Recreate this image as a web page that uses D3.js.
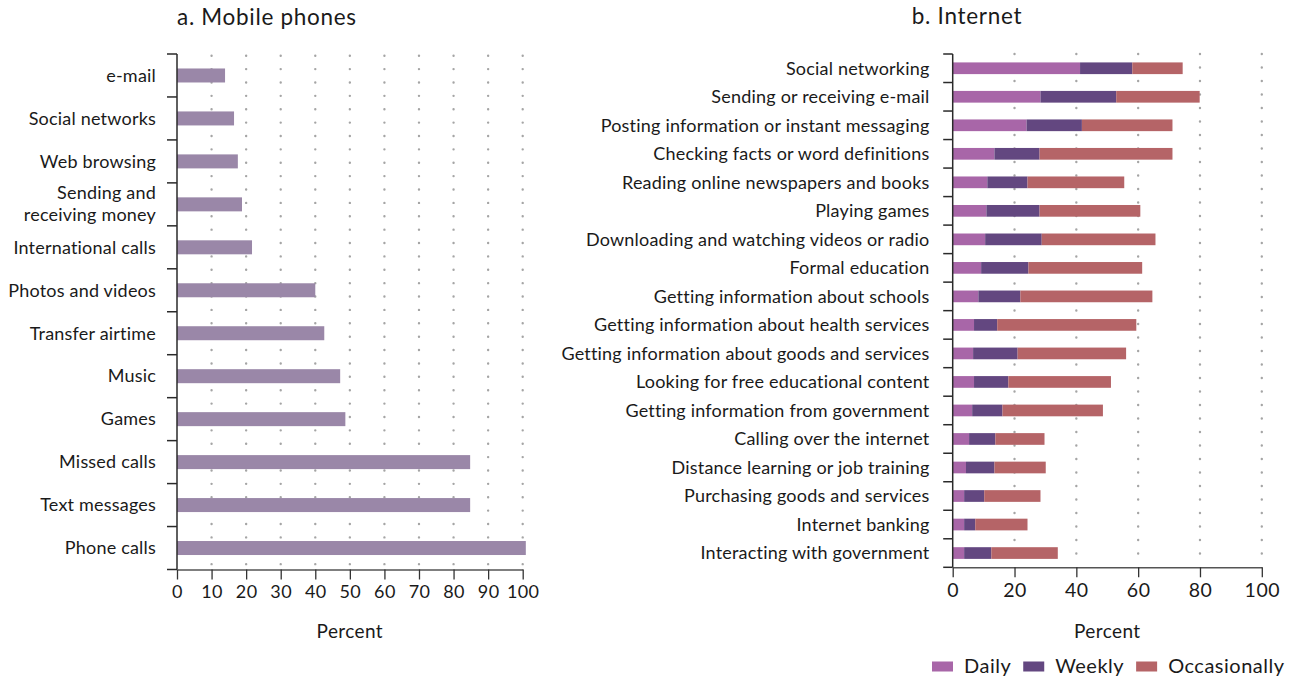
<!DOCTYPE html>
<html>
<head>
<meta charset="utf-8">
<script src="https://cdn.jsdelivr.net/npm/d3@7"></script>
<style>
  html, body { margin: 0; padding: 0; background: #fff; }
  svg { display: block; font-family: Lato, "Open Sans", sans-serif; }
</style>
</head>
<body>
<svg id="chart" width="1299" height="676"></svg>
<script>
// ---------- data ----------
const mobileCategories = ["e-mail", "Social networks", "Web browsing", "Sending and\nreceiving money",
  "International calls", "Photos and videos", "Transfer airtime", "Music", "Games",
  "Missed calls", "Text messages", "Phone calls"];
const mobileValues = [13.9, 16.5, 17.6, 18.8, 21.7, 40.0, 42.6, 47.2, 48.7, 84.8, 84.8, 100.9];
const mobileTicks = [0, 10, 20, 30, 40, 50, 60, 70, 80, 90, 100];

const internetCategories = ["Social networking", "Sending or receiving e-mail",
  "Posting information or instant messaging", "Checking facts or word definitions",
  "Reading online newspapers and books", "Playing games",
  "Downloading and watching videos or radio", "Formal education",
  "Getting information about schools", "Getting information about health services",
  "Getting information about goods and services", "Looking for free educational content",
  "Getting information from government", "Calling over the internet",
  "Distance learning or job training", "Purchasing goods and services",
  "Internet banking", "Interacting with government"];
const daily =        [41.2, 28.4, 23.9, 13.5, 11.2, 10.9, 10.5, 9.2, 8.3, 6.9, 6.6, 6.9, 6.3, 5.3, 4.3, 3.7, 3.7, 3.7];
const weekly =       [16.9, 24.5, 17.9, 14.6, 13.0, 17.2, 18.3, 15.3, 13.6, 7.5, 14.4, 11.1, 9.8, 8.5, 9.2, 6.5, 3.6, 8.8];
const occasionally = [16.3, 27.0, 29.3, 43.0, 31.3, 32.6, 36.8, 36.8, 42.7, 45.0, 35.1, 33.2, 32.5, 15.9, 16.6, 18.2, 16.9, 21.5];
const seriesNames = ["Daily", "Weekly", "Occasionally"];
const internetTicks = [0, 20, 40, 60, 80, 100];

const titles = ["a. Mobile phones", "b. Internet"];
const axisTitle = "Percent";

// ---------- styles ----------
const mobileColor = "#9a87a8";
const seriesColors = ["#a866a8", "#634780", "#b56467"];
const textColor = "#1a1a1a";
const gridColor = "#a5a5a5";

const svg = d3.select("#chart");

function dottedGrid(g, x, ticks, y0, y1, step) {
  g.selectAll("line.grid").data(ticks.filter(t => t > 0)).join("line")
    .attr("class", "grid")
    .attr("x1", d => x(d)).attr("x2", d => x(d))
    .attr("y1", y0).attr("y2", y1)
    .attr("stroke", gridColor).attr("stroke-width", 2.4)
    .attr("stroke-linecap", "round")
    .attr("stroke-dasharray", `0 ${step}`);
}

function bandAxis(g, y, xAxisPos, tickLen, labelX, fontSize, twoLineGap) {
  const cats = y.domain();
  const bounds = cats.map(c => y(c)).concat([y.range()[1]]);
  g.append("line")
    .attr("x1", xAxisPos).attr("x2", xAxisPos)
    .attr("y1", y.range()[0]).attr("y2", y.range()[1])
    .attr("stroke", "#2a2a2a").attr("stroke-width", 1.5);
  g.selectAll("line.ytick").data(bounds).join("line")
    .attr("class", "ytick")
    .attr("x1", xAxisPos - tickLen).attr("x2", xAxisPos)
    .attr("y1", d => d).attr("y2", d => d)
    .attr("stroke", "#2a2a2a").attr("stroke-width", 1.5);
  const lab = g.selectAll("text.ylab").data(cats).join("text")
    .attr("class", "ylab")
    .attr("x", labelX)
    .attr("text-anchor", "end")
    .attr("fill", textColor)
    .style("font-size", fontSize + "px")
    .style("letter-spacing", "0.2px");
  lab.each(function(d) {
    const lines = d.split("\n");
    const cy = y(d) + y.bandwidth() / 2;
    const t = d3.select(this);
    if (lines.length === 1) {
      t.attr("y", cy).attr("dy", "0.35em").text(d);
    } else {
      lines.forEach((ln, i) => {
        t.append("tspan").attr("x", labelX)
          .attr("y", cy - 12 + i * twoLineGap).attr("dy", "0.35em").text(ln);
      });
    }
  });
}

// ---------- panel a: Mobile phones ----------
{
  const top = 54, bottom = 569.5;
  const x = d3.scaleLinear().domain([0, 100]).range([177, 522.7]);
  const y = d3.scaleBand().domain(mobileCategories).range([top, bottom]);
  const g = svg.append("g");

  const grid = g.append("g").attr("transform", "translate(0,1.7)");
  dottedGrid(grid, x, mobileTicks, top, bottom - 1.7, 13.38);

  const barH = 14;
  g.selectAll("rect.bar").data(mobileCategories).join("rect")
    .attr("class", "bar")
    .attr("x", x(0))
    .attr("y", (d) => y(d) + y.bandwidth() / 2 - barH / 2)
    .attr("width", (d, i) => x(mobileValues[i]) - x(0))
    .attr("height", barH)
    .attr("fill", mobileColor);

  bandAxis(g, y, 177, 10, 156, 18, 22);

  const xa = g.append("g").attr("transform", `translate(0,${bottom})`)
    .call(d3.axisBottom(x).tickValues(mobileTicks).tickSize(10).tickSizeOuter(0).tickPadding(6));
  xa.select(".domain").attr("stroke", "#555").attr("stroke-width", 1.5);
  xa.selectAll(".tick line").attr("stroke", "#333").attr("stroke-width", 1.3);
  xa.selectAll(".tick text").attr("fill", textColor).style("font-size", "18px")
    .style("letter-spacing", "0.4px").style("font-family", "Lato, sans-serif");

  g.append("text").attr("x", (x(0) + x(100)) / 2).attr("y", 638)
    .attr("text-anchor", "middle").attr("fill", textColor).style("font-size", "19px")
    .style("letter-spacing", "0.4px").text(axisTitle);

  g.append("text").attr("x", 177).attr("y", 25)
    .attr("fill", textColor).style("font-size", "22.5px").style("letter-spacing", "0.7px").text(titles[0]);
}

// ---------- panel b: Internet ----------
{
  const top = 54, bottom = 567.3;
  const x = d3.scaleLinear().domain([0, 100]).range([952.7, 1261.8]);
  const y = d3.scaleBand().domain(internetCategories).range([top, bottom]);
  const g = svg.append("g");

  dottedGrid(g, x, internetTicks, top, bottom - 4, 13.5);

  const rows = internetCategories.map((c, i) => ({
    cat: c, Daily: daily[i], Weekly: weekly[i], Occasionally: occasionally[i]
  }));
  const stacked = d3.stack().keys(seriesNames)(rows);
  const barH = 11.7;
  g.selectAll("g.series").data(stacked).join("g")
    .attr("class", "series")
    .attr("fill", (d, i) => seriesColors[i])
    .selectAll("rect").data(d => d).join("rect")
    .attr("x", d => x(d[0]))
    .attr("y", d => y(d.data.cat) + y.bandwidth() / 2 - barH / 2)
    .attr("width", d => x(d[1]) - x(d[0]))
    .attr("height", barH);

  bandAxis(g, y, 952.7, 9.5, 929.5, 18, 22);

  const xa = g.append("g").attr("transform", `translate(0,${bottom})`)
    .call(d3.axisBottom(x).tickValues(internetTicks).tickSize(10).tickSizeOuter(0).tickPadding(6));
  xa.select(".domain").attr("stroke", "#555").attr("stroke-width", 1.5);
  xa.selectAll(".tick line").attr("stroke", "#333").attr("stroke-width", 1.3);
  xa.selectAll(".tick text").attr("fill", textColor).style("font-size", "19.5px")
    .style("letter-spacing", "0.5px").style("font-family", "Lato, sans-serif");

  g.append("text").attr("x", (x(0) + x(100)) / 2).attr("y", 638)
    .attr("text-anchor", "middle").attr("fill", textColor).style("font-size", "19px")
    .style("letter-spacing", "0.4px").text(axisTitle);

  g.append("text").attr("x", 967).attr("y", 24).attr("text-anchor", "middle")
    .attr("fill", textColor).style("font-size", "22.5px").style("letter-spacing", "0.7px").text(titles[1]);

  // legend
  const leg = g.append("g").attr("transform", "translate(932,661.5)");
  let cx = 0;
  seriesNames.forEach((name, i) => {
    leg.append("rect").attr("x", cx).attr("y", 0).attr("width", 21).attr("height", 10)
      .attr("fill", seriesColors[i]);
    const t = leg.append("text").attr("x", cx + 32).attr("y", 11)
      .attr("fill", textColor).style("font-size", "20px").style("letter-spacing", "0.5px").text(name);
    cx += 32 + t.node().getComputedTextLength() + 12;
  });
}
</script>
</body>
</html>
